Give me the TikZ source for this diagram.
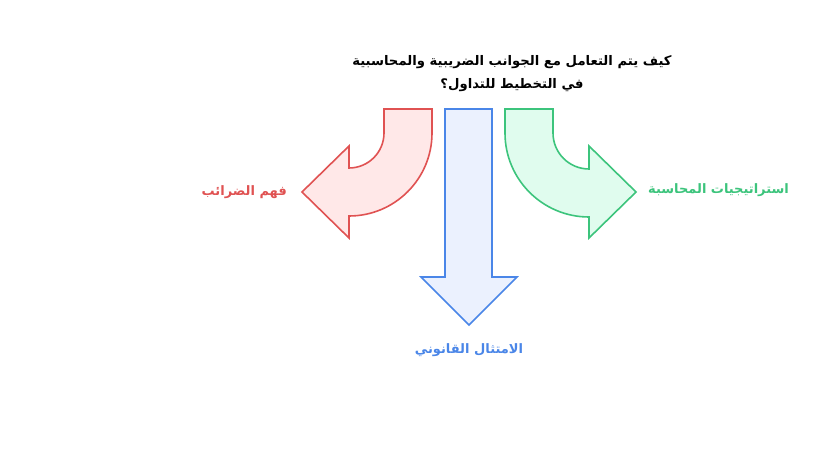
\documentclass[tikz,border=0pt]{standalone}
\usepackage{fontspec}
\TeXXeTstate=1
\newfontfamily\arabicfont[Script=Arabic]{DejaVu Sans}
\definecolor{redS}{HTML}{E05252}
\definecolor{redF}{HTML}{FFE8E8}
\definecolor{grnS}{HTML}{3CC47C}
\definecolor{grnF}{HTML}{E0FCEE}
\definecolor{bluS}{HTML}{4A86E8}
\definecolor{bluF}{HTML}{EBF1FE}
\begin{document}
\begin{tikzpicture}[x=1pt,y=-1pt,
  arr/.style={line width=1.6pt,line join=miter},
  lbl/.style={font=\arabicfont\bfseries\fontsize{13}{15}\selectfont,inner sep=0pt},
  ttl/.style={font=\arabicfont\bfseries\fontsize{13.2}{23}\selectfont,align=center,inner sep=0pt,text=black}]
\useasboundingbox[fill=white] (0,0) rectangle (830,470);
% red arrow
\draw[arr,draw=redS,fill=redF] (384,109) -- (432,109) -- (432,133) arc(0:90:83)
  -- (349,238) -- (302,192) -- (349,146) -- (349,168) arc(90:0:35) -- cycle;
% green arrow
\draw[arr,draw=grnS,fill=grnF] (505,109) -- (553,109) -- (553,133) arc(180:90:36)
  -- (589,146) -- (636,192) -- (589,238) -- (589,217) arc(90:180:84) -- cycle;
% blue arrow
\draw[arr,draw=bluS,fill=bluF] (445,109) -- (492,109) -- (492,277) -- (517,277)
  -- (469,325) -- (421,277) -- (445,277) -- cycle;
% labels
\node[ttl] (title) at (512,74) {\beginR كيف يتم التعامل مع الجوانب الضريبية والمحاسبية\endR\\\beginR في التخطيط للتداول؟\endR};
\node[lbl,text=redS,anchor=east] (lred) at (287,192) {\beginR فهم الضرائب\endR};
\node[lbl,text=grnS,anchor=west] (lgrn) at (648,190) {\beginR استراتيجيات المحاسبة\endR};
\node[lbl,text=bluS] (lblu) at (469,350) {\beginR الامتثال القانوني\endR};
\end{tikzpicture}
\end{document}
